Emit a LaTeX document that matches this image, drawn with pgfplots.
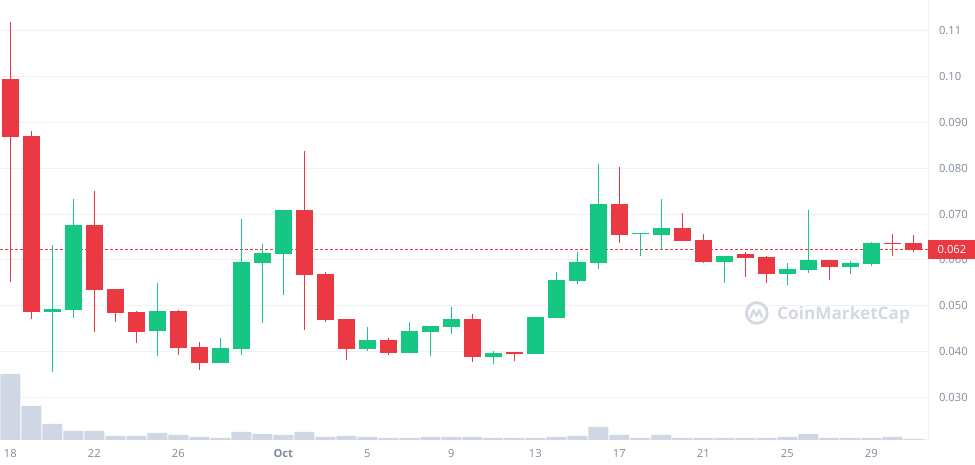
\documentclass[border=0pt]{standalone}
\usepackage{pgfplots}
\pgfplotsset{compat=1.18}
\usepackage{pgfplotstable}
\usepackage{fontspec}
\setmainfont{Open Sans}
\definecolor{cmcred}{HTML}{EA3943}
\definecolor{cmcgreen}{HTML}{16C784}
\definecolor{gridc}{HTML}{EFF2F5}
\definecolor{volc}{HTML}{CFD6E4}
\definecolor{tickc}{HTML}{808A9D}
\definecolor{wmc}{HTML}{D3D8E1}

\pgfplotstableread{
d open high low close
0 0.0994 0.1119 0.0553 0.0868
1 0.0870 0.0881 0.0472 0.0487
4 0.0676 0.0750 0.0443 0.0535
5 0.0537 0.0537 0.0465 0.0485
6 0.0487 0.0489 0.0419 0.0443
8 0.0489 0.0491 0.0393 0.0408
9 0.0411 0.0421 0.0361 0.0376
14 0.0709 0.0837 0.0448 0.0567
15 0.0570 0.0574 0.0465 0.0469
16 0.0472 0.0472 0.0382 0.0406
18 0.0426 0.0430 0.0393 0.0398
22 0.0472 0.0482 0.0378 0.0389
24 0.0399 0.0400 0.0380 0.0396
29 0.0722 0.0802 0.0637 0.0654
32 0.0670 0.0702 0.0641 0.0641
33 0.0644 0.0657 0.0593 0.0596
35 0.0613 0.0617 0.0563 0.0604
36 0.0607 0.0609 0.0550 0.0570
39 0.0600 0.0600 0.0556 0.0585
42 0.0637 0.0657 0.0609 0.0635
43 0.0637 0.0654 0.0617 0.0622
}\redc

\pgfplotstableread{
d open high low close
2 0.0487 0.0633 0.0355 0.0493
3 0.0491 0.0733 0.0474 0.0676
7 0.0445 0.0550 0.0391 0.0489
10 0.0376 0.0430 0.0376 0.0408
11 0.0406 0.0689 0.0393 0.0596
12 0.0593 0.0635 0.0463 0.0615
13 0.0613 0.0709 0.0524 0.0709
17 0.0406 0.0454 0.0402 0.0426
19 0.0398 0.0465 0.0398 0.0445
20 0.0443 0.0456 0.0391 0.0456
21 0.0454 0.0498 0.0439 0.0472
23 0.0389 0.0402 0.0374 0.0398
25 0.0395 0.0476 0.0395 0.0476
26 0.0474 0.0574 0.0474 0.0556
27 0.0554 0.0617 0.0548 0.0596
28 0.0593 0.0809 0.0580 0.0722
30 0.0656 0.0659 0.0609 0.0658
31 0.0654 0.0733 0.0622 0.0670
34 0.0596 0.0609 0.0550 0.0609
37 0.0570 0.0593 0.0546 0.0580
38 0.0578 0.0709 0.0572 0.0600
40 0.0585 0.0598 0.0570 0.0593
41 0.0591 0.0639 0.0587 0.0637
}\greenc

\pgfplotstableread{
d vol
0 66
1 34
2 16
3 9
4 9
5 4
6 4
7 7
8 5
9 3
10 2
11 8
12 6
13 5
14 8
15 3
16 4
17 3
18 2
19 2
20 3
21 3
22 3
23 2
24 2
25 2
26 3
27 4
28 13
29 5
30 2
31 5
32 2
33 2
34 2
35 2
36 2
37 3
38 6
39 2
40 2
41 2
42 3
43 1
}\volt

\begin{document}
\begin{tikzpicture}
\useasboundingbox (0,0) rectangle (487.5pt,232.5pt);
\begin{axis}[
  at={(0,12.5pt)}, anchor=south west, scale only axis,
  width=464pt, height=220pt,
  xmin=-0.49, xmax=43.7, ymin=0.0208, ymax=0.1166,
  axis x line*=bottom, axis y line*=right,
  axis line style={draw=gridc, line width=0.5pt, -},
  ymajorgrids, grid style={draw=gridc, line width=0.5pt},
  ytick={0.03,0.04,0.05,0.06,0.07,0.08,0.09,0.10,0.11},
  yticklabels={0.030,0.040,0.050,0.060,0.070,0.080,0.090,0.10,0.11},
  xtick={0,4,8,13,17,21,25,29,33,37,41},
  xticklabels={18,22,26,\textbf{Oct},5,9,13,17,21,25,29},
  major tick length=0pt,
  tick label style={font=\fontsize{5.6}{6.7}\selectfont, text=tickc},
  yticklabel style={anchor=west, xshift=2pt},
  xticklabel style={yshift=-1pt},
  candle/.style={draw=none, mark=none, forget plot},
]
\addplot[cmcred, line width=0.5pt, dash pattern=on 1.5pt off 1pt] coordinates {(-0.49,0.06233) (43.7,0.06233)};
% wicks
\addplot[candle, error bars/.cd, y dir=minus, y explicit, error mark=none,
  error bar style={draw=cmcred, line width=0.55pt}]
  table[x=d, y=high, y error minus expr=\thisrow{high}-\thisrow{low}] {\redc};
\addplot[candle, error bars/.cd, y dir=minus, y explicit, error mark=none,
  error bar style={draw=cmcgreen, line width=0.55pt}]
  table[x=d, y=high, y error minus expr=\thisrow{high}-\thisrow{low}] {\greenc};
% bodies
\addplot[candle, error bars/.cd, y dir=minus, y explicit, error mark=none,
  error bar style={draw=cmcred, line width=8.5pt}]
  table[x=d, y=open, y error minus expr=\thisrow{open}-\thisrow{close}] {\redc};
\addplot[candle, error bars/.cd, y dir=minus, y explicit, error mark=none,
  error bar style={draw=cmcgreen, line width=8.5pt}]
  table[x=d, y=close, y error minus expr=\thisrow{close}-\thisrow{open}] {\greenc};
% watermark
\draw[wmc, line width=1.4pt] (axis cs:35.55,0.04845) circle (5.2pt);
\draw[wmc, line width=1.1pt, line join=round, line cap=round] (axis cs:35.55,0.04845) ++(-3pt,-2pt) -- ++(1.3pt,3.5pt) -- ++(1.5pt,-3pt) -- ++(1.5pt,3pt) -- ++(1.2pt,-3.5pt);
\node[font=\fontsize{8.6}{10}\selectfont\bfseries, text=wmc, anchor=west, inner sep=0pt] at (axis cs:36.5,0.0480) {CoinMarketCap};
\coordinate (tag) at (axis cs:43.7,0.06233);
\end{axis}
\begin{axis}[
  at={(0,12.5pt)}, anchor=south west, scale only axis,
  width=464pt, height=220pt,
  xmin=-0.49, xmax=43.7, ymin=0, ymax=440, hide axis,
]
\addplot[ybar, bar width=0.952, bar shift=0pt, fill=volc, draw=none] table[x=d, y=vol] {\volt};
\end{axis}
\node[anchor=west, fill=cmcred, text=white, minimum height=9.35pt, minimum width=23.5pt, inner xsep=4pt, inner ysep=0pt, font=\fontsize{5.6}{6.7}\selectfont] at (tag) {0.062};
\end{tikzpicture}
\end{document}
